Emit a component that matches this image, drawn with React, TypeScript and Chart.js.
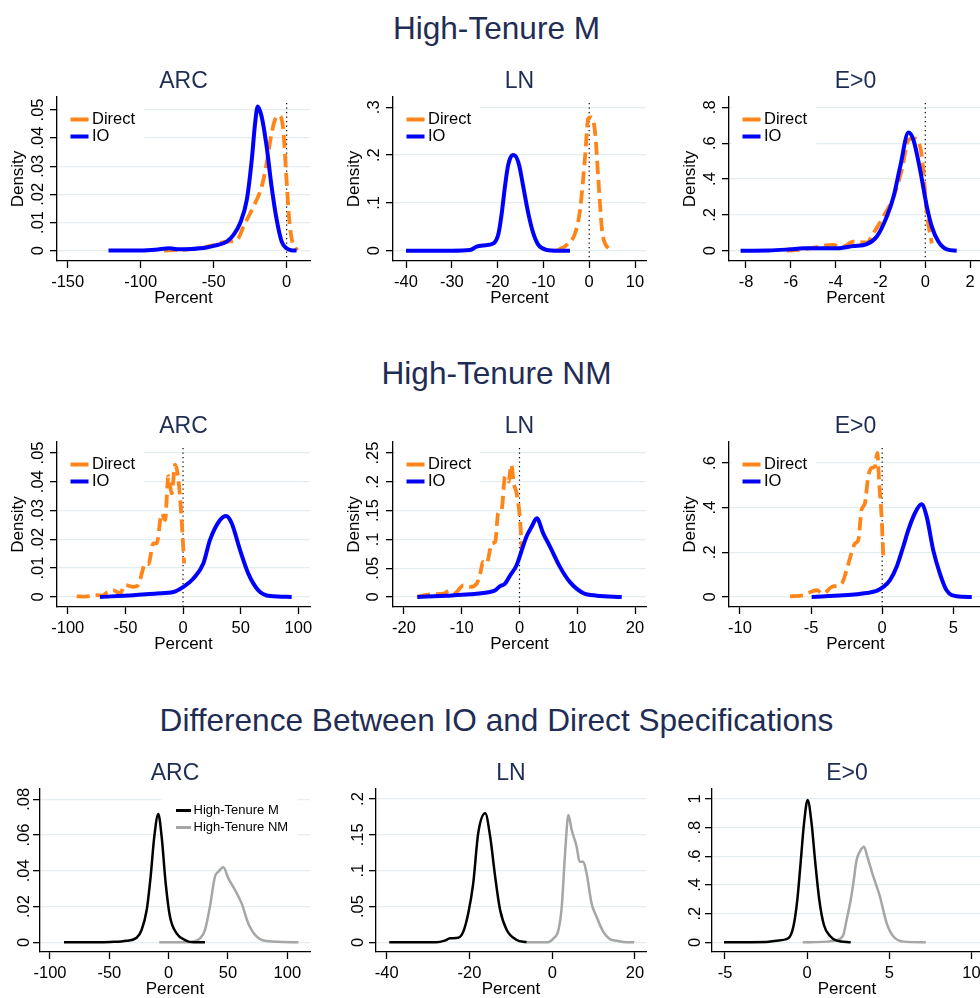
import React, { useEffect, useRef } from 'react';
import { Chart, registerables } from 'chart.js';

Chart.register(...registerables);

type Pt = [number, number];

// ================= DATA =================
const sectionTitles = ['High-Tenure M', 'High-Tenure NM', 'Difference Between IO and Direct Specifications'];
const panelTitles = ['ARC', 'LN', 'E>0'];
const specLabels = ['Direct', 'IO'];
const groupLabels = ['High-Tenure M', 'High-Tenure NM'];
const xAxisTitle = 'Percent';
const yAxisTitle = 'Density';
const refLineValue = 0;

// Row 1: High-Tenure M
const hmArcXTicks = [-150, -100, -50, 0];
const hmArcYTicks = [0, 0.01, 0.02, 0.03, 0.04, 0.05];
const hmArcIO: Pt[] = [[-122, 0], [-105, 0], [-90, 0.0003], [-80, 0.0008], [-75, 0.0005], [-65, 0.0006], [-55, 0.0011], [-50, 0.0017], [-41, 0.0032], [-36.4, 0.0056], [-31.9, 0.0097], [-27.3, 0.018], [-23.9, 0.0322], [-21.6, 0.0453], [-19.8, 0.0512], [-17.1, 0.0476], [-13.7, 0.037], [-10.3, 0.0227], [-6.8, 0.0109], [-3.4, 0.0032], [0, 0.0008], [3, 0.0001], [6.8, 0]];
const hmArcDirect: Pt[] = [[-84, 0], [-75, 0.0002], [-65, 0.0005], [-59, 0.0008], [-50, 0.002], [-41, 0.0032], [-34, 0.0038], [-29.6, 0.0085], [-22.8, 0.0156], [-17.1, 0.0227], [-13.7, 0.031], [-10.3, 0.0417], [-6.8, 0.0476], [-4.6, 0.0479], [-2.3, 0.0429], [-0.5, 0.0287], [1.8, 0.0109], [4.1, 0.0026], [7.3, 0.0002]];

const hmLnXTicks = [-40, -30, -20, -10, 0, 10];
const hmLnYTicks = [0, 0.1, 0.2, 0.3];
const hmLnIO: Pt[] = [[-40, 0], [-30, 0], [-26, 0.0014], [-24.6, 0.0084], [-23.1, 0.011], [-20.9, 0.0153], [-19.8, 0.036], [-19.1, 0.078], [-18.4, 0.134], [-17.7, 0.179], [-16.7, 0.2], [-16.2, 0.199], [-15.3, 0.179], [-14.4, 0.134], [-13.3, 0.078], [-12.2, 0.036], [-11.1, 0.012], [-9.3, 0.0014], [-7, 0], [-4.2, 0]];
const hmLnDirect: Pt[] = [[-7.1, 0], [-4.9, 0.012], [-3.1, 0.036], [-2, 0.085], [-0.9, 0.197], [-0.2, 0.277], [0.5, 0.279], [1.3, 0.246], [2, 0.148], [2.9, 0.036], [4.5, 0.0014]];

const hmEXTicks = [-8, -6, -4, -2, 0, 2];
const hmEYTicks = [0, 0.2, 0.4, 0.6, 0.8];
const hmEIO: Pt[] = [[-8.24, 0], [-7, 0.001], [-6.04, 0.0074], [-5.44, 0.013], [-3.95, 0.013], [-3.21, 0.026], [-2.61, 0.037], [-2.17, 0.078], [-1.72, 0.19], [-1.42, 0.3], [-1.12, 0.469], [-0.75, 0.659], [-0.53, 0.618], [-0.23, 0.45], [0.07, 0.246], [0.29, 0.134], [0.59, 0.05], [0.96, 0.0074], [1.4, 0]];
const hmEDirect: Pt[] = [[-6.19, 0], [-5.44, 0.0074], [-4.1, 0.032], [-3.73, 0.019], [-3.21, 0.05], [-2.61, 0.045], [-2.32, 0.097], [-1.87, 0.19], [-1.42, 0.3], [-1.05, 0.45], [-0.75, 0.618], [-0.53, 0.627], [-0.23, 0.58], [-0.09, 0.45], [0.07, 0.208], [0.29, 0.041]];

// Row 2: High-Tenure NM
const nmArcXTicks = [-100, -50, 0, 50, 100];
const nmArcYTicks = [0, 0.01, 0.02, 0.03, 0.04, 0.05];
const nmArcIO: Pt[] = [[-72, 0], [-43, 0.0006], [-22.8, 0.0012], [-8.4, 0.0017], [0.3, 0.0035], [9, 0.0064], [17.6, 0.0116], [23.4, 0.0198], [32.1, 0.0267], [37.3, 0.0281], [42.2, 0.0256], [49.4, 0.0163], [56.6, 0.0081], [65.3, 0.0023], [75.4, 0.0003], [94.2, 0]];
const nmArcDirect: Pt[] = [[-92.2, 0.0002], [-85, 0.0001], [-80, 0.0003], [-74.9, 0.0006], [-70, 0.0004], [-66.2, 0.0015], [-60.4, 0.0023], [-54.6, 0.0012], [-50.3, 0.0041], [-43.1, 0.0035], [-38.7, 0.0041], [-35.8, 0.0081], [-32.9, 0.0116], [-30.1, 0.0114], [-25.7, 0.0186], [-22.8, 0.0186], [-18.5, 0.029], [-15.6, 0.0267], [-12.7, 0.0419], [-9.8, 0.036], [-6.9, 0.0459], [-4, 0.0407], [-1.2, 0.0267], [0.9, 0.0116]];

const nmLnXTicks = [-20, -10, 0, 10, 20];
const nmLnYTicks = [0, 0.05, 0.1, 0.15, 0.2, 0.25];
const nmLnIO: Pt[] = [[-17.7, 0], [-12.6, 0.0023], [-8.6, 0.0047], [-5.1, 0.0087], [-4.2, 0.0116], [-3.4, 0.0186], [-2.5, 0.0233], [-1.6, 0.0378], [-0.5, 0.0552], [0.4, 0.0814], [1.2, 0.1047], [2.1, 0.122], [3, 0.1366], [4.1, 0.1105], [5.3, 0.0872], [7, 0.0523], [8.7, 0.0262], [11, 0.007], [13.4, 0.0023], [17.7, 0]];
const nmLnDirect: Pt[] = [[-17.7, 0], [-15.5, 0.0047], [-13.2, 0.0058], [-12, 0.0116], [-11.2, 0.007], [-9.7, 0.0203], [-8.6, 0.0174], [-7.4, 0.0233], [-6.8, 0.0407], [-6.3, 0.061], [-5.7, 0.0581], [-4.8, 0.093], [-4.2, 0.0959], [-3.7, 0.1453], [-3.1, 0.1512], [-2.5, 0.2093], [-1.9, 0.2006], [-1.4, 0.2297], [-1, 0.1977], [-0.5, 0.1802], [0.1, 0.1337], [0.4, 0.0814]];

const nmEXTicks = [-10, -5, 0, 5];
const nmEYTicks = [0, 0.2, 0.4, 0.6];
const nmEIO: Pt[] = [[-4.96, 0], [-2.73, 0.0075], [-1.09, 0.018], [-0.39, 0.027], [0.08, 0.045], [0.55, 0.075], [1.02, 0.135], [1.48, 0.225], [1.84, 0.3], [2.3, 0.375], [2.77, 0.415], [3.13, 0.36], [3.59, 0.21], [4.06, 0.105], [4.53, 0.03], [5.23, 0.003], [6.3, 0]];
const nmEDirect: Pt[] = [[-6.48, 0.003], [-5.55, 0.0075], [-5.2, 0.018], [-4.61, 0.03], [-4.14, 0.015], [-3.55, 0.045], [-2.85, 0.06], [-2.5, 0.12], [-2.27, 0.1725], [-1.91, 0.24], [-1.68, 0.255], [-1.45, 0.39], [-1.21, 0.42], [-0.98, 0.54], [-0.74, 0.578], [-0.51, 0.585], [-0.34, 0.645], [-0.2, 0.5], [-0.04, 0.36], [0.08, 0.18]];

// Row 3: Difference IO - Direct
const dfArcXTicks = [-100, -50, 0, 50, 100];
const dfArcYTicks = [0, 0.02, 0.04, 0.06, 0.08];
const dfArcM: Pt[] = [[-88.2, 0], [-60, 0], [-49.4, 0.0002], [-35.4, 0.0009], [-27, 0.0026], [-22.8, 0.0069], [-18.5, 0.0181], [-15.2, 0.0367], [-12.1, 0.0591], [-8.7, 0.0718], [-5.9, 0.0591], [-2.5, 0.033], [1.1, 0.0144], [6.7, 0.005], [13.8, 0.0013], [20.8, 0], [30.6, 0]];
const dfArcNM: Pt[] = [[-7.9, 0], [15.2, 0], [20.8, 0.0004], [26.4, 0.0022], [30.6, 0.0069], [34.8, 0.02], [39, 0.0367], [41.9, 0.0395], [46.1, 0.042], [50.3, 0.0358], [55.9, 0.0293], [61.5, 0.0218], [67.1, 0.0106], [74.2, 0.0032], [82.6, 0.0007], [109.3, 0]];

const dfLnXTicks = [-40, -20, 0, 20];
const dfLnYTicks = [0, 0.05, 0.1, 0.15, 0.2];
const dfLnM: Pt[] = [[-39.4, 0], [-28, 0], [-26, 0.0023], [-24.7, 0.0056], [-22.7, 0.0065], [-21.5, 0.0149], [-20.3, 0.0405], [-19.1, 0.0823], [-17.9, 0.152], [-16.2, 0.18], [-15, 0.1474], [-13.8, 0.0916], [-12.6, 0.0451], [-11, 0.0172], [-8.6, 0.0033], [-6.2, 0]];
const dfLnNM: Pt[] = [[-6.2, 0], [-1.3, 0], [0.3, 0.0056], [1.5, 0.0172], [2.3, 0.0498], [3.1, 0.1242], [3.9, 0.1777], [4.7, 0.1567], [5.9, 0.1335], [6.6, 0.1126], [7.5, 0.1126], [8.3, 0.0963], [9.5, 0.0544], [10.7, 0.0358], [12.3, 0.0149], [14, 0.0042], [15.6, 0.0023], [17.2, 0.0005], [19.8, 0]];

const dfEXTicks = [-5, 0, 5, 10];
const dfEYTicks = [0, 0.2, 0.4, 0.6, 0.8, 1];
const dfEM: Pt[] = [[-5.06, 0], [-2.47, 0.0023], [-1.86, 0.0116], [-1.15, 0.028], [-0.84, 0.109], [-0.6, 0.295], [-0.4, 0.551], [-0.19, 0.83], [0.03, 0.993], [0.27, 0.83], [0.48, 0.574], [0.74, 0.295], [1.02, 0.121], [1.39, 0.044], [1.8, 0.0116], [2.65, 0]];
const dfENM: Pt[] = [[-0.27, 0], [1.19, 0.0047], [1.8, 0.016], [2.2, 0.051], [2.4, 0.156], [2.65, 0.295], [2.81, 0.412], [3.01, 0.574], [3.21, 0.633], [3.46, 0.667], [3.66, 0.598], [4.03, 0.458], [4.43, 0.319], [4.84, 0.133], [5.25, 0.04], [5.86, 0.0047], [7.22, 0]];

// ================= STYLE =================
const FONT = '"Liberation Sans", Arial, Helvetica, sans-serif';
const TITLE_COLOR = '#1f2d55';
const ORANGE = '#ff8519';
const BLUE = '#0000ff';
const BLACK = '#000000';
const GRAY = '#a6a6a6';
const GRID = '#e4edf0';
const TICK_SIZE = 16.5;
const TICK_LEN = 7;
const CELL_W = 336;

interface Series { label: string; data: Pt[]; color: string; width: number; dash?: number[] }
interface LegendDef { items: { label: string; color: string }[]; lineX: number; lineLen: number; lineWidth: number; textX: number; rowY: number[]; fontSize: number; boxLeft: number; boxTop: number; boxBottom: number }
interface PanelDef {
  title: string; left: number; top: number; height: number; plotLeft: number;
  xMin: number; xMax: number; yMin: number; yMax: number; xTicks: number[]; yTicks: number[];
  series: Series[]; legend?: LegendDef; refLine?: number; yTitle?: string; yGap: number;
}

const rows = [
  { T: 97, B: 261, plotLeft: 57 },
  { T: 442, B: 607, plotLeft: 57 },
  { T: 789, B: 952, plotLeft: 40 },
];

const specLegend: LegendDef = {
  items: [{ label: specLabels[0], color: ORANGE }, { label: specLabels[1], color: BLUE }],
  lineX: 13.5, lineLen: 18, lineWidth: 4, textX: 35, rowY: [22.5, 39.5], fontSize: 16.5,
  boxLeft: 3, boxTop: 5, boxBottom: 50,
};
const groupLegend: LegendDef = {
  items: [{ label: groupLabels[0], color: BLACK }, { label: groupLabels[1], color: GRAY }],
  lineX: 136, lineLen: 15, lineWidth: 3, textX: 153.5, rowY: [21.5, 38.5], fontSize: 13,
  boxLeft: 121, boxTop: 8, boxBottom: 48,
};

function specSeries(io: Pt[], direct: Pt[]): Series[] {
  return [
    { label: specLabels[1], data: io, color: BLUE, width: 4 },
    { label: specLabels[0], data: direct, color: ORANGE, width: 3.8, dash: [13, 6] },
  ];
}
function groupSeries(m: Pt[], nm: Pt[]): Series[] {
  return [
    { label: groupLabels[0], data: m, color: BLACK, width: 2.5 },
    { label: groupLabels[1], data: nm, color: GRAY, width: 2.5 },
  ];
}

function cell(r: number, c: number) {
  const row = rows[r];
  return { left: c * CELL_W, top: row.T - 34, height: row.B - row.T + 82, plotLeft: row.plotLeft };
}

const panels: PanelDef[] = [
  { ...cell(0, 0), title: panelTitles[0], xMin: -157.3, xMax: 16, yMin: -0.0037, yMax: 0.0546, xTicks: hmArcXTicks, yTicks: hmArcYTicks, series: specSeries(hmArcIO, hmArcDirect), legend: specLegend, refLine: refLineValue, yTitle: yAxisTitle, yGap: 18.8 },
  { ...cell(0, 1), title: panelTitles[1], xMin: -42.84, xMax: 12.4, yMin: -0.0216, yMax: 0.3216, xTicks: hmLnXTicks, yTicks: hmLnYTicks, series: specSeries(hmLnIO, hmLnDirect), legend: specLegend, refLine: refLineValue, yTitle: yAxisTitle, yGap: 19 },
  { ...cell(0, 2), title: panelTitles[2], xMin: -8.757, xMax: 2.53, yMin: -0.0575, yMax: 0.8575, xTicks: hmEXTicks, yTicks: hmEYTicks, series: specSeries(hmEIO, hmEDirect), legend: specLegend, refLine: refLineValue, yTitle: yAxisTitle, yGap: 19 },
  { ...cell(1, 0), title: panelTitles[0], xMin: -109.3, xMax: 110.1, yMin: -0.0035, yMax: 0.0538, xTicks: nmArcXTicks, yTicks: nmArcYTicks, series: specSeries(nmArcIO, nmArcDirect), legend: specLegend, refLine: refLineValue, yTitle: yAxisTitle, yGap: 18.8 },
  { ...cell(1, 1), title: panelTitles[1], xMin: -21.9, xMax: 21.9, yMin: -0.0174, yMax: 0.2692, xTicks: nmLnXTicks, yTicks: nmLnYTicks, series: specSeries(nmLnIO, nmLnDirect), legend: specLegend, refLine: refLineValue, yTitle: yAxisTitle, yGap: 19.5 },
  { ...cell(1, 2), title: panelTitles[2], xMin: -10.77, xMax: 7.02, yMin: -0.045, yMax: 0.6944, xTicks: nmEXTicks, yTicks: nmEYTicks, series: specSeries(nmEIO, nmEDirect), legend: specLegend, refLine: refLineValue, yTitle: yAxisTitle, yGap: 19 },
  { ...cell(2, 0), title: panelTitles[0], xMin: -108.4, xMax: 119.1, yMin: -0.0054, yMax: 0.0858, xTicks: dfArcXTicks, yTicks: dfArcYTicks, series: groupSeries(dfArcM, dfArcNM), legend: groupLegend, yGap: 15.5 },
  { ...cell(2, 1), title: panelTitles[1], xMin: -42.6, xMax: 22.66, yMin: -0.0135, yMax: 0.214, xTicks: dfLnXTicks, yTicks: dfLnYTicks, series: groupSeries(dfLnM, dfLnNM), yGap: 18 },
  { ...cell(2, 2), title: panelTitles[2], xMin: -5.79, xMax: 10.64, yMin: -0.0677, yMax: 1.07, xTicks: dfEXTicks, yTicks: dfEYTicks, series: groupSeries(dfEM, dfENM), yGap: 16.5 },
];

function fmtTick(v: number): string {
  if (v === 0) return '0';
  const s = String(Number(v.toFixed(6)));
  if (s.startsWith('0.')) return s.slice(1);
  if (s.startsWith('-0.')) return '-' + s.slice(2);
  return s;
}

let measureCtx: CanvasRenderingContext2D | null = null;
function textWidth(t: string, size: number): number {
  if (!measureCtx) measureCtx = document.createElement('canvas').getContext('2d');
  measureCtx!.font = `normal ${size}px ${FONT}`;
  return measureCtx!.measureText(t).width;
}

function makeOverlay(p: PanelDef) {
  return {
    id: 'stataOverlay',
    beforeDatasetsDraw(chart: any) {
      const ctx: CanvasRenderingContext2D = chart.ctx;
      const ca = chart.chartArea;
      if (p.refLine !== undefined) {
        const x = chart.scales.x.getPixelForValue(p.refLine);
        ctx.save();
        ctx.strokeStyle = '#000';
        ctx.lineWidth = 1.2;
        ctx.setLineDash([1.3, 3.2]);
        ctx.beginPath();
        ctx.moveTo(x, ca.top + 6);
        ctx.lineTo(x, ca.bottom);
        ctx.stroke();
        ctx.restore();
      }
      const lg = p.legend;
      if (lg) {
        ctx.save();
        ctx.font = `normal ${lg.fontSize}px ${FONT}`;
        const tw = Math.max(...lg.items.map((it) => ctx.measureText(it.label).width));
        const bx0 = ca.left + lg.boxLeft;
        const by0 = ca.top + lg.boxTop;
        const bx1 = ca.left + lg.textX + tw + 9;
        const by1 = ca.top + lg.boxBottom;
        ctx.fillStyle = '#ffffff';
        ctx.fillRect(bx0, by0, bx1 - bx0, by1 - by0);
        lg.items.forEach((it, i) => {
          const y = ca.top + lg.rowY[i];
          ctx.strokeStyle = it.color;
          ctx.lineWidth = lg.lineWidth;
          ctx.setLineDash([]);
          ctx.lineCap = 'butt';
          ctx.beginPath();
          ctx.moveTo(ca.left + lg.lineX, y);
          ctx.lineTo(ca.left + lg.lineX + lg.lineLen, y);
          ctx.stroke();
          ctx.fillStyle = '#000';
          ctx.textBaseline = 'middle';
          ctx.textAlign = 'left';
          ctx.fillText(it.label, ca.left + lg.textX, y);
        });
        ctx.restore();
      }
    },
  };
}

function Panel({ p }: { p: PanelDef }) {
  const ref = useRef<HTMLCanvasElement>(null);
  useEffect(() => {
    const canvas = ref.current!;
    const yLabels = p.yTicks.map(fmtTick);
    const widest = Math.max(...yLabels.map((l) => textWidth(l, TICK_SIZE)));
    const yPad = p.yGap - TICK_LEN - widest / 2;
    const chart = new Chart(canvas, {
      type: 'scatter',
      data: {
        datasets: p.series.map((s) => ({
          label: s.label,
          data: s.data.map(([x, y]) => ({ x, y })),
          showLine: true,
          borderColor: s.color,
          backgroundColor: s.color,
          borderWidth: s.width,
          borderDash: s.dash || [],
          borderCapStyle: 'butt',
          borderJoinStyle: 'round',
          pointRadius: 0,
          pointHoverRadius: 0,
          cubicInterpolationMode: 'monotone',
          fill: false,
        })),
      } as any,
      options: {
        responsive: false,
        animation: false,
        events: [],
        layout: { autoPadding: false, padding: { left: 0, right: 26, top: 4.7, bottom: 0 } },
        plugins: {
          legend: { display: false },
          tooltip: { enabled: false },
          title: {
            display: true,
            text: p.title,
            fullSize: false,
            color: TITLE_COLOR,
            font: { family: FONT, size: 23, weight: 'normal' },
            padding: { top: 0, bottom: 1.7 },
          },
        },
        scales: {
          x: {
            type: 'linear',
            position: 'bottom',
            min: p.xMin,
            max: p.xMax,
            afterBuildTicks: (s: any) => { s.ticks = p.xTicks.map((v) => ({ value: v })); },
            afterFit: (s: any) => { s.height = 48; },
            ticks: {
              autoSkip: false, maxRotation: 0, minRotation: 0, padding: 4.6, color: '#000',
              font: { family: FONT, size: TICK_SIZE },
              callback: (v: any) => fmtTick(Number(v)),
            },
            grid: { drawOnChartArea: false, drawTicks: true, tickLength: TICK_LEN, tickColor: '#000', tickWidth: 1.3 },
            border: { display: true, color: '#000', width: 1.3 },
            title: { display: true, text: xAxisTitle, color: '#000', font: { family: FONT, size: 17 }, padding: { top: 0, bottom: 0.8 } },
          },
          y: {
            type: 'linear',
            position: 'left',
            min: p.yMin,
            max: p.yMax,
            afterBuildTicks: (s: any) => { s.ticks = p.yTicks.map((v) => ({ value: v })); },
            afterFit: (s: any) => { s.width = p.plotLeft; },
            ticks: {
              autoSkip: false, minRotation: 90, maxRotation: 90, crossAlign: 'center', padding: yPad, color: '#000',
              font: { family: FONT, size: TICK_SIZE },
              callback: (v: any) => fmtTick(Number(v)),
            },
            grid: { color: GRID, lineWidth: 1.3, drawOnChartArea: true, drawTicks: true, tickLength: TICK_LEN, tickColor: '#000', tickWidth: 1.3 },
            border: { display: true, color: '#000', width: 1.3 },
            title: p.yTitle
              ? { display: true, text: p.yTitle, color: '#000', font: { family: FONT, size: 17 }, padding: { top: 8, bottom: 0 } }
              : { display: false },
          },
        },
      } as any,
      plugins: [makeOverlay(p)],
    });
    return () => chart.destroy();
  }, [p]);
  return (
    <canvas
      ref={ref}
      width={CELL_W}
      height={p.height}
      style={{ position: 'absolute', left: p.left, top: p.top }}
    />
  );
}

const sectionCapCenters = [28, 373.5, 720];
const SECTION_SIZE = 31.6;

export default function App() {
  return (
    <div style={{ position: 'absolute', left: 0, top: 0, width: 980, height: 998, overflow: 'hidden', background: '#fff' }}>
      {sectionTitles.map((t, i) => (
        <div
          key={t}
          style={{
            position: 'absolute', left: 0, width: 993, textAlign: 'center',
            top: sectionCapCenters[i] - 0.4885 * SECTION_SIZE, fontSize: SECTION_SIZE, lineHeight: `${SECTION_SIZE}px`,
            fontFamily: FONT, color: TITLE_COLOR, whiteSpace: 'nowrap',
          }}
        >
          {t}
        </div>
      ))}
      {panels.map((p, i) => (
        <Panel key={i} p={p} />
      ))}
    </div>
  );
}
